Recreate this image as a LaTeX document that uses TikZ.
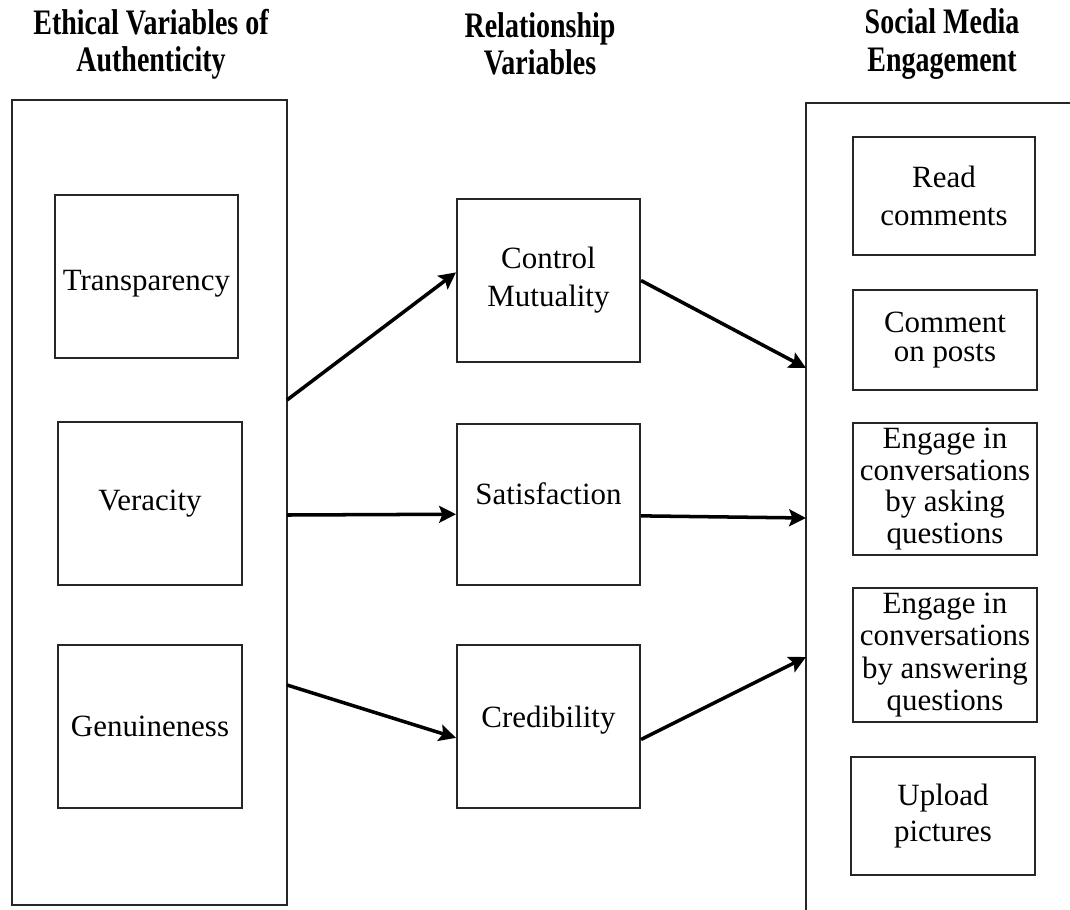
\documentclass[tikz,border=0pt]{standalone}
\usepackage{fontspec}
\setmainfont{Liberation Serif}
\newfontfamily\titlefont[FakeStretch=0.78]{Liberation Serif Bold}
\usepackage{tikz}
\usetikzlibrary{arrows.meta, positioning}

\tikzset{
  caja/.style = {draw=black!85, line width=1.4pt, align=center, inner sep=0pt,
                 font=\fontsize{22}{24}\selectfont},
  titulo/.style = {align=center, font=\titlefont\fontsize{25.5}{26.5}\selectfont},
  flecha/.style = {->, line width=2.5pt}
}

\begin{document}
\begin{tikzpicture}[> = {Stealth[length=0.42cm, width=0.42cm, inset=0.08cm]}, x=0.025cm, y=-0.025cm]
  \useasboundingbox (0,0) rectangle (1070,909);

  % titulos
  \node [titulo] (t1) at (151,44) {Ethical Variables of\\Authenticity};
  \node [titulo] (t2) at (540,44) {Relationship\\Variables};
  \node [titulo] (t3) at (942,44) {Social Media\\Engagement};

  % marcos grandes
  \node [caja, minimum width=6.875cm, minimum height=20.125cm] (autent) at (149.5,502.5) {};
  \draw [black!85, line width=1.4pt] (1080,103) -- (806,103) -- (806,915);

  % autenticidad
  \node [caja, minimum width=4.575cm, minimum height=4.075cm, text height=0.85cm] (transp) at (146.5,276.5) {Transparency};
  \node [caja, minimum width=4.6cm, minimum height=4.075cm] (verac) at (150,503.5) {Veracity};
  \node [caja, minimum width=4.6cm, minimum height=4.075cm] (genu) at (150,726.5) {Genuineness};

  % relacion
  \node [caja, minimum width=4.575cm, minimum height=4.075cm,
         font=\fontsize{22}{27}\selectfont] (ctrl) at (548.5,280.5) {Control\\Mutuality};
  \node [caja, minimum width=4.575cm, minimum height=4.025cm, text depth=0.55cm] (satis) at (548.5,504.5) {Satisfaction};
  \node [caja, minimum width=4.575cm, minimum height=4.075cm, text depth=0.5cm] (cred) at (548.5,726.5) {Credibility};

  % engagement
  \node [caja, minimum width=4.55cm, minimum height=2.95cm,
         font=\fontsize{22}{27}\selectfont] (read) at (944,196) {Read\\comments};
  \node [caja, minimum width=4.6cm, minimum height=2.5cm,
         font=\fontsize{22}{21}\selectfont] (comm) at (945,340) {Comment\\on posts};
  \node [caja, minimum width=4.6cm, minimum height=3.3cm,
         font=\fontsize{22}{22.5}\selectfont] (ask) at (945,489) {Engage in\\conversations\\by asking\\questions};
  \node [caja, minimum width=4.6cm, minimum height=3.35cm,
         font=\fontsize{22}{23}\selectfont] (answ) at (945,655) {Engage in\\conversations\\by answering\\questions};
  \node [caja, minimum width=4.6cm, minimum height=2.95cm,
         font=\fontsize{22}{25}\selectfont] (upl) at (943,816) {Upload\\pictures};

  % puntos en los marcos
  \coordinate (l1) at (287,400);
  \coordinate (l2) at (287,515);
  \coordinate (l3) at (287,685);
  \coordinate (r1) at (806,368);
  \coordinate (r2) at (806,518);
  \coordinate (r3) at (806,657);

  % flechas
  \draw [flecha] (l1) -- (ctrl.175);
  \draw [flecha] (l2) -- (satis.186);
  \draw [flecha] (l3) -- (cred.187);
  \draw [flecha] (ctrl.east) -- (r1);
  \draw [flecha] (satis.353) -- (r2);
  \draw [flecha] (cred.352) -- (r3);
\end{tikzpicture}
\end{document}
